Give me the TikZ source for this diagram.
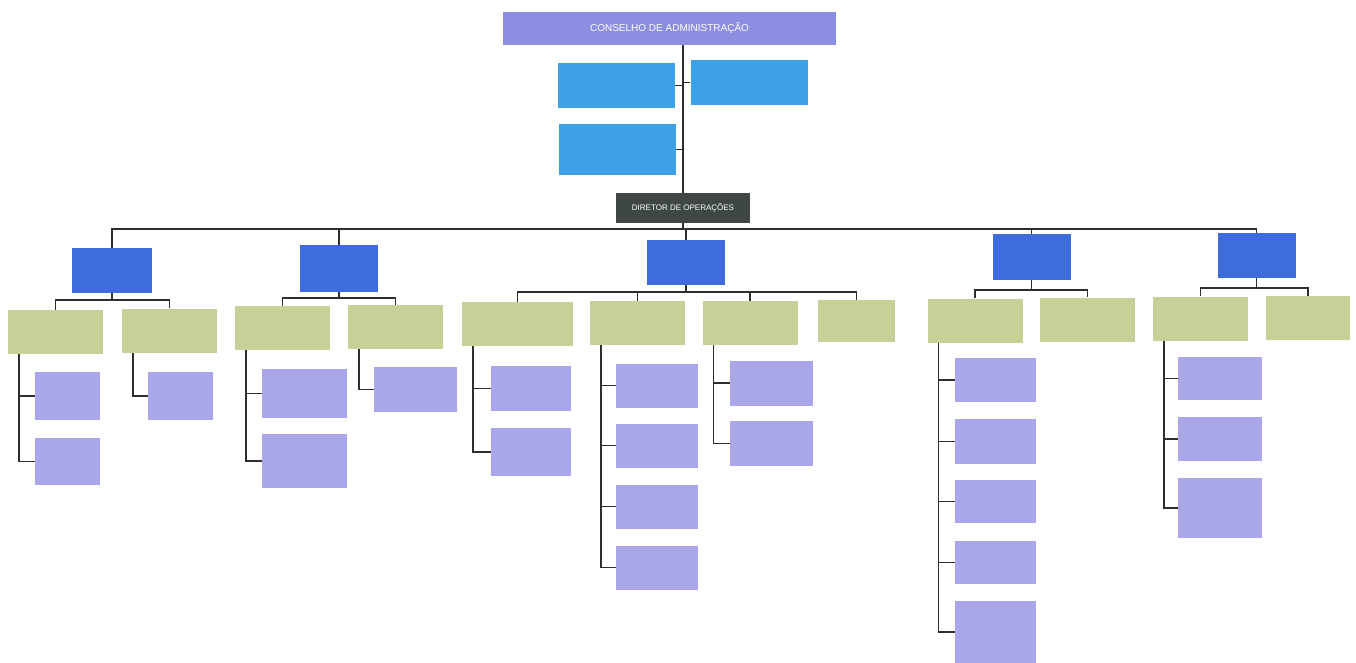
\documentclass[tikz,border=0pt]{standalone}
\usepackage{fontspec}
\setmainfont{Liberation Sans}
\usetikzlibrary{positioning}

\definecolor{conselho}{RGB}{140,142,226}
\definecolor{assessor}{RGB}{62,160,230}
\definecolor{diretor}{RGB}{62,70,70}
\definecolor{gerencia}{RGB}{62,108,220}
\definecolor{setor}{RGB}{200,208,152}
\definecolor{funcao}{RGB}{170,166,234}
\definecolor{linha}{RGB}{45,45,50}

\begin{document}
\begin{tikzpicture}[x=1pt, y=-1pt]
    \tikzset{caixa/.style={inner sep=0pt, align=center, text=white, font=\fontsize{7}{8}\selectfont},
      topo/.style={caixa, fill=conselho, minimum width=333, minimum height=33, font=\fontsize{10}{11}\selectfont},
      assess/.style={caixa, fill=assessor, minimum width=117, minimum height=45},
      dirbox/.style={caixa, fill=diretor, minimum width=134, minimum height=30, font=\fontsize{8}{9}\selectfont},
      gerbox/.style={caixa, fill=gerencia, minimum width=78, minimum height=45},
      setbox/.style={caixa, fill=setor, minimum width=95, minimum height=44},
      funbox/.style={caixa, fill=funcao, minimum width=82, minimum height=45},
      liga/.style={draw=linha, line width=1.5pt}}
    \useasboundingbox (0,0) rectangle (1356,663);

    % conselho e assessorias
    \node[topo] (conselho) at (669.5,28.5) {CONSELHO DE ADMINISTRAÇÃO};
    \node[assess] (ass1) at (616,85.5) {};
    \node[assess] (ass2) at (749,82.5) {};
    \node[assess, minimum height=51] (ass3) at (617.5,149.5) {};
    \node[dirbox] (diretor) at (683,208) {DIRETOR DE OPERAÇÕES};

    % gerencias
    \node[gerbox, minimum width=80] (gerA) at (112,270.5) {};
    \node[gerbox, minimum height=47] (gerB) at (339,268.5) {};
    \node[gerbox] (gerC) at (686,262.5) {};
    \node[gerbox, minimum height=46] (gerD) at (1031.5,257) {};
    \node[gerbox] (gerE) at (1256.5,255.5) {};

    % setores
    \node[setbox] (setA1) at (55.5,332) {};
    \node[setbox] (setA2) at (169.5,330.5) {};
    \node[setbox] (setB1) at (282.5,328) {};
    \node[setbox] (setB2) at (395.5,327) {};
    \node[setbox, minimum width=111] (setC1) at (517.5,324) {};
    \node[setbox] (setC2) at (637.5,323) {};
    \node[setbox] (setC3) at (750,323) {};
    \node[setbox, minimum width=77, minimum height=42] (setC4) at (856.5,321) {};
    \node[setbox] (setD1) at (975,320.5) {};
    \node[setbox] (setD2) at (1087.5,319.5) {};
    \node[setbox] (setE1) at (1200.5,318.5) {};
    \node[setbox, minimum width=84] (setE2) at (1308,318) {};

    % funcoes
    \node[funbox, minimum width=65, minimum height=48] (funA1a) at (67.5,396) {};
    \node[funbox, minimum width=65, minimum height=47] (funA1b) at (67.5,461.5) {};
    \node[funbox, minimum width=65, minimum height=48] (funA2a) at (180.5,396) {};
    \node[funbox, minimum width=85, minimum height=49] (funB1a) at (304.5,393.5) {};
    \node[funbox, minimum width=85, minimum height=54] (funB1b) at (304.5,461) {};
    \node[funbox, minimum width=83] (funB2a) at (415.5,389.5) {};
    \node[funbox, minimum width=80] (funC1a) at (531,388.5) {};
    \node[funbox, minimum width=80, minimum height=48] (funC1b) at (531,452) {};
    \node[funbox, minimum height=44] (funC2a) at (657,385.5) {};
    \node[funbox, minimum height=44] (funC2b) at (657,445.5) {};
    \node[funbox, minimum height=44] (funC2c) at (657,506.5) {};
    \node[funbox, minimum height=44] (funC2d) at (657,567.5) {};
    \node[funbox, minimum width=83] (funC3a) at (771.5,383) {};
    \node[funbox, minimum width=83] (funC3b) at (771.5,443.5) {};
    \node[funbox, minimum width=81, minimum height=44] (funD1a) at (995.5,380) {};
    \node[funbox, minimum width=81] (funD1b) at (995.5,441.5) {};
    \node[funbox, minimum width=81, minimum height=43] (funD1c) at (995.5,501.5) {};
    \node[funbox, minimum width=81, minimum height=43] (funD1d) at (995.5,562.5) {};
    \node[funbox, minimum width=81, minimum height=62] (funD1e) at (995.5,632) {};
    \node[funbox, minimum width=84, minimum height=43] (funE1a) at (1220,378.5) {};
    \node[funbox, minimum width=84, minimum height=44] (funE1b) at (1220,439) {};
    \node[funbox, minimum width=84, minimum height=60] (funE1c) at (1220,508) {};

    % ligacoes do topo
    \draw[liga] (diretor.north |- conselho.south) -- (diretor.north);
    \draw[liga] (ass1.east) -- (ass1.east -| diretor.north);
    \draw[liga] (ass2.west) -- (ass2.west -| diretor.north);
    \draw[liga] (ass3.east) -- (ass3.east -| diretor.north);

    % barramento das gerencias
    \coordinate (barra) at (683,229);
    \draw[liga] (diretor.south) -- (barra);
    \draw[liga] (gerA.north) |- (barra) -| (gerE.north);
    \foreach \g in {gerB, gerC, gerD}
      \draw[liga] (\g.north) -- (\g.north |- barra);

    % gerencias para setores
    \draw[liga] (gerA.south) -- ++(0,7) coordinate (bA) -| (setA1.north);
    \draw[liga] (bA) -| (setA2.north);
    \draw[liga] (gerB.south) -- ++(0,6) coordinate (bB) -| (setB1.north);
    \draw[liga] (bB) -| (setB2.north);
    \draw[liga] (gerC.south) -- ++(0,7) coordinate (bC) -| (setC1.north);
    \foreach \s in {setC2, setC3, setC4}
      \draw[liga] (bC) -| (\s.north);
    \draw[liga] (gerD.south) -- ++(0,10) coordinate (bD) -| (setD1.north);
    \draw[liga] (bD) -| (setD2.north);
    \draw[liga] (gerE.south) -- ++(0,10) coordinate (bE) -| (setE1.north);
    \draw[liga] (bE) -| (setE2.north);

    % setores para funcoes
    \foreach \s/\f in {setA1/funA1a, setA1/funA1b, setA2/funA2a,
        setB1/funB1a, setB1/funB1b, setB2/funB2a,
        setC1/funC1a, setC1/funC1b,
        setC2/funC2a, setC2/funC2b, setC2/funC2c, setC2/funC2d,
        setC3/funC3a, setC3/funC3b,
        setD1/funD1a, setD1/funD1b, setD1/funD1c, setD1/funD1d, setD1/funD1e,
        setE1/funE1a, setE1/funE1b, setE1/funE1c}
      \draw[liga] ([xshift=11]\s.south west) |- (\f.west);

\end{tikzpicture}
\end{document}
